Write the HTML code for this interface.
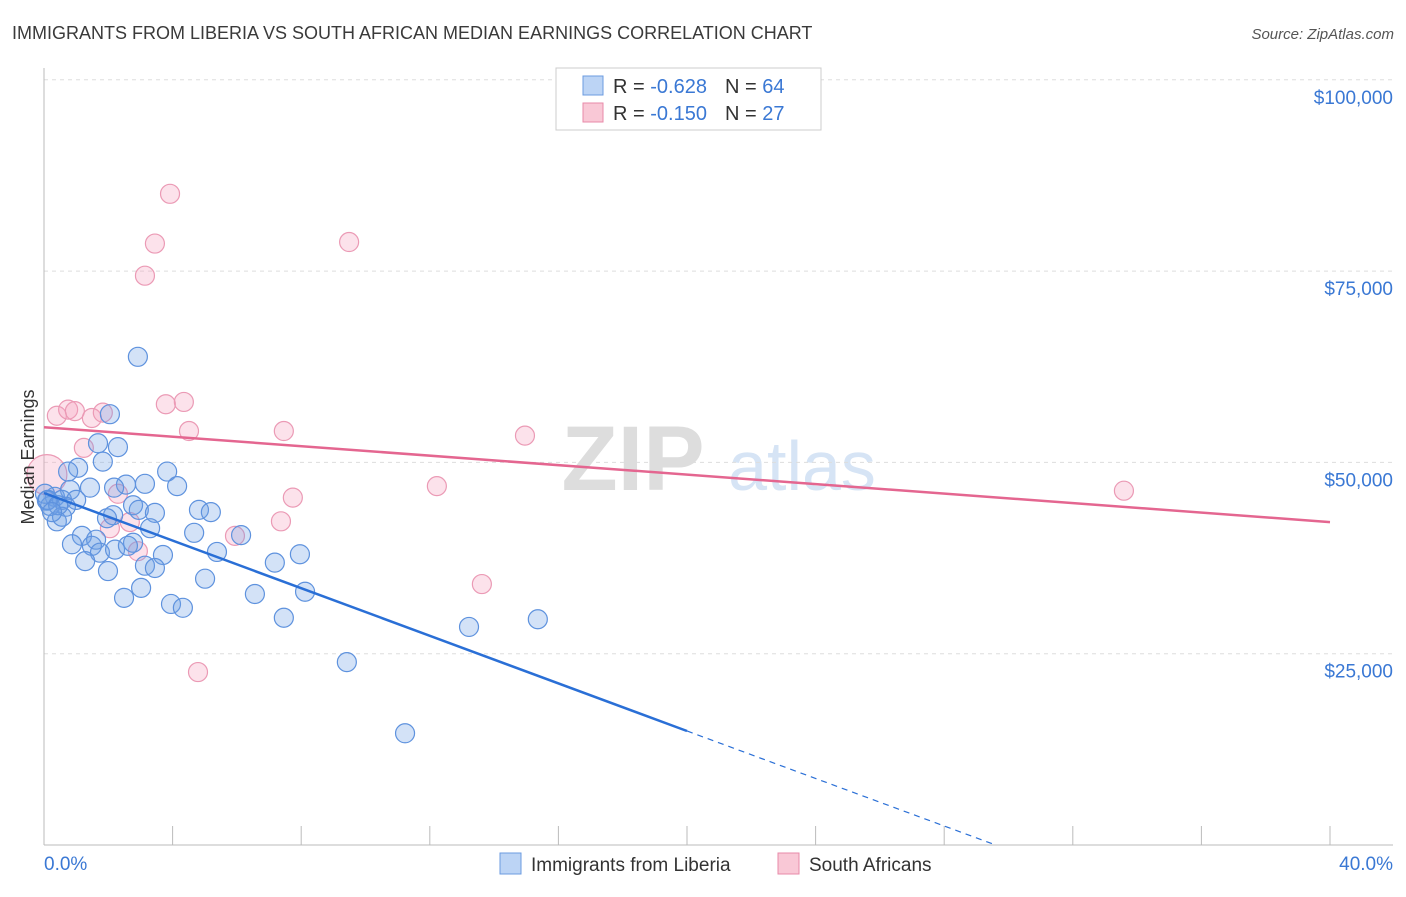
<!DOCTYPE html>
<html><head><meta charset="utf-8"><style>
body{margin:0;background:#fff;font-family:"Liberation Sans",sans-serif}
svg text{font-family:"Liberation Sans",sans-serif}
</style></head><body>
<svg id="chart" width="1406" height="892" viewBox="0 0 1406 892">
<text x="12" y="39" font-size="18" fill="#3a3a3a">IMMIGRANTS FROM LIBERIA VS SOUTH AFRICAN MEDIAN EARNINGS CORRELATION CHART</text>
<text x="1394" y="39" font-size="15" fill="#555" text-anchor="end" font-style="italic">Source: ZipAtlas.com</text>
<g>
<text x="633" y="490" font-size="92" fill="#ddd" text-anchor="middle" font-family="Liberation Serif" font-weight="bold">ZIP</text>
<text x="802" y="490" font-size="70" fill="#d6e4f5" text-anchor="middle">atlas</text>
</g>
<g id="grid"></g>
<g id="axes"></g>
<g id="marks"></g>
<text transform="translate(34,457) rotate(-90)" font-size="18" fill="#333" text-anchor="middle">Median Earnings</text>
<g>
<rect x="556" y="68" width="265" height="62" fill="#fff" stroke="#ccc"/>
<rect x="583" y="76" width="20" height="19" fill="#bcd4f5" stroke="#6b9be0"/>
<text x="613" y="93" font-size="20" fill="#333">R = <tspan fill="#3a78d4">-0.628</tspan><tspan dx="18">N = </tspan><tspan fill="#3a78d4">64</tspan></text>
<rect x="583" y="103" width="20" height="19" fill="#f9c8d6" stroke="#e88aa8"/>
<text x="613" y="120" font-size="20" fill="#333">R = <tspan fill="#3a78d4">-0.150</tspan><tspan dx="18">N = </tspan><tspan fill="#3a78d4">27</tspan></text>
</g>
<g>
<rect x="500" y="853" width="21" height="21" fill="#bcd4f5" stroke="#6b9be0"/>
<text x="531" y="871" font-size="19" fill="#333">Immigrants from Liberia</text>
<rect x="778" y="853" width="21" height="21" fill="#f9c8d6" stroke="#e88aa8"/>
<text x="809" y="871" font-size="19" fill="#333">South Africans</text>
</g>
</svg>
<script>
const blueX=[2.92,2.05,1.68,2.30,1.06,1.83,3.83,0.75,3.14,2.55,4.14,1.43,2.18,0.81,0.34,0.09,0.56,1.00,0.19,0.68,2.77,2.95,4.82,5.19,2.15,1.96,3.45,0.40,0.56,3.30,4.67,6.13,1.18,1.62,2.77,0.87,1.49,1.74,2.21,2.61,5.38,3.70,7.96,1.28,3.14,3.45,7.18,1.99,5.01,3.02,8.12,2.49,6.56,3.95,4.32,7.46,13.22,15.36,9.42,11.23,0.03,0.12,0.44,0.25];
const blueY=[63.8,56.3,52.5,52.0,49.3,50.1,48.8,48.8,47.2,47.1,46.9,46.7,46.7,46.4,45.5,45.0,45.1,45.1,44.3,44.2,44.4,43.8,43.8,43.5,43.1,42.7,43.4,42.3,42.9,41.4,40.8,40.5,40.4,39.9,39.5,39.3,39.1,38.2,38.6,39.1,38.3,37.9,38.0,37.1,36.5,36.2,36.9,35.8,34.8,33.6,33.1,32.3,32.8,31.5,31.0,29.7,28.5,29.5,23.9,14.6,45.9,45.1,44.4,43.5];
const pinkX=[3.92,3.45,9.49,3.14,0.40,0.75,0.96,1.49,1.83,3.79,4.35,4.51,7.46,14.96,1.24,0.09,2.30,7.74,12.22,33.59,2.67,2.05,7.37,5.94,2.92,13.62,4.79];
const pinkY=[85.1,78.6,78.8,74.4,56.1,56.9,56.7,55.8,56.5,57.6,57.9,54.1,54.1,53.5,51.9,48.4,45.9,45.4,46.9,46.3,42.2,41.4,42.3,40.4,38.4,34.1,22.6];
const pinkBig=[15];
const blueTrend=[[0,46.0],[20,14.9],[29.6,0]];
const pinkTrend=[[0,54.6],[40,42.2]];
const yTicks=[25,50,75,100];
const yTickLabels=["$25,000","$50,000","$75,000","$100,000"];
const xTicks=[0,4,8,12,16,20,24,28,32,36,40];

const NS="http://www.w3.org/2000/svg";
const sx=v=>44+v/40*1286;
const sy=v=>845-v/25*191.3;
function mk(tag,attrs,parent){const e=document.createElementNS(NS,tag);for(const k in attrs)e.setAttribute(k,attrs[k]);parent.appendChild(e);return e;}
const grid=document.getElementById('grid'),axes=document.getElementById('axes'),marks=document.getElementById('marks');
yTicks.forEach((t,i)=>{
 const l=mk('line',{x1:44,x2:1393,y1:sy(t),y2:sy(t),stroke:'#ddd','stroke-dasharray':'4,4'},grid);
 
 
 const tx=mk('text',{x:1393,y:sy(t)+24,'font-size':19,fill:'#3a78d4','text-anchor':'end'},axes);
 tx.textContent=yTickLabels[i];
 
 
});
const ya=mk('line',{x1:44,x2:44,y1:68,y2:845,stroke:'#bbb'},axes);


const xa=mk('line',{x1:44,x2:1393,y1:845,y2:845,stroke:'#bbb'},axes);


xTicks.forEach(t=>{
 const l=mk('line',{x1:sx(t),x2:sx(t),y1:826,y2:845,stroke:'#bbb'},axes);
 
 
});
const x0=mk('text',{x:44,y:870,'font-size':19,fill:'#3a78d4'},axes);x0.textContent="0.0%";


const x1=mk('text',{x:1393,y:870,'font-size':19,fill:'#3a78d4','text-anchor':'end'},axes);x1.textContent="40.0%";



pinkX.forEach((v,i)=>{
 const c=mk('circle',{cx:sx(v),cy:sy(pinkY[i]),r:pinkBig.includes(i)?20:9.5,fill:'rgba(244,160,188,0.3)',stroke:'#eb9ab5','stroke-width':1.2},marks);
 
 
});
blueX.forEach((v,i)=>{
 const c=mk('circle',{cx:sx(v),cy:sy(blueY[i]),r:9.5,fill:'rgba(110,160,230,0.3)',stroke:'#5e92de','stroke-width':1.2},marks);
 
 
});
const bl=mk('line',{x1:sx(blueTrend[0][0]),y1:sy(blueTrend[0][1]),x2:sx(blueTrend[1][0]),y2:sy(blueTrend[1][1]),stroke:'#2a6fd6','stroke-width':2.5},marks);


const bd=mk('line',{x1:sx(blueTrend[1][0]),y1:sy(blueTrend[1][1]),x2:sx(blueTrend[2][0]),y2:sy(blueTrend[2][1]),stroke:'#2a6fd6','stroke-width':1.2,'stroke-dasharray':'6,5'},marks);


const pl=mk('line',{x1:sx(pinkTrend[0][0]),y1:sy(pinkTrend[0][1]),x2:sx(pinkTrend[1][0]),y2:sy(pinkTrend[1][1]),stroke:'#e46690','stroke-width':2.5},marks);


</script>
</body></html>
